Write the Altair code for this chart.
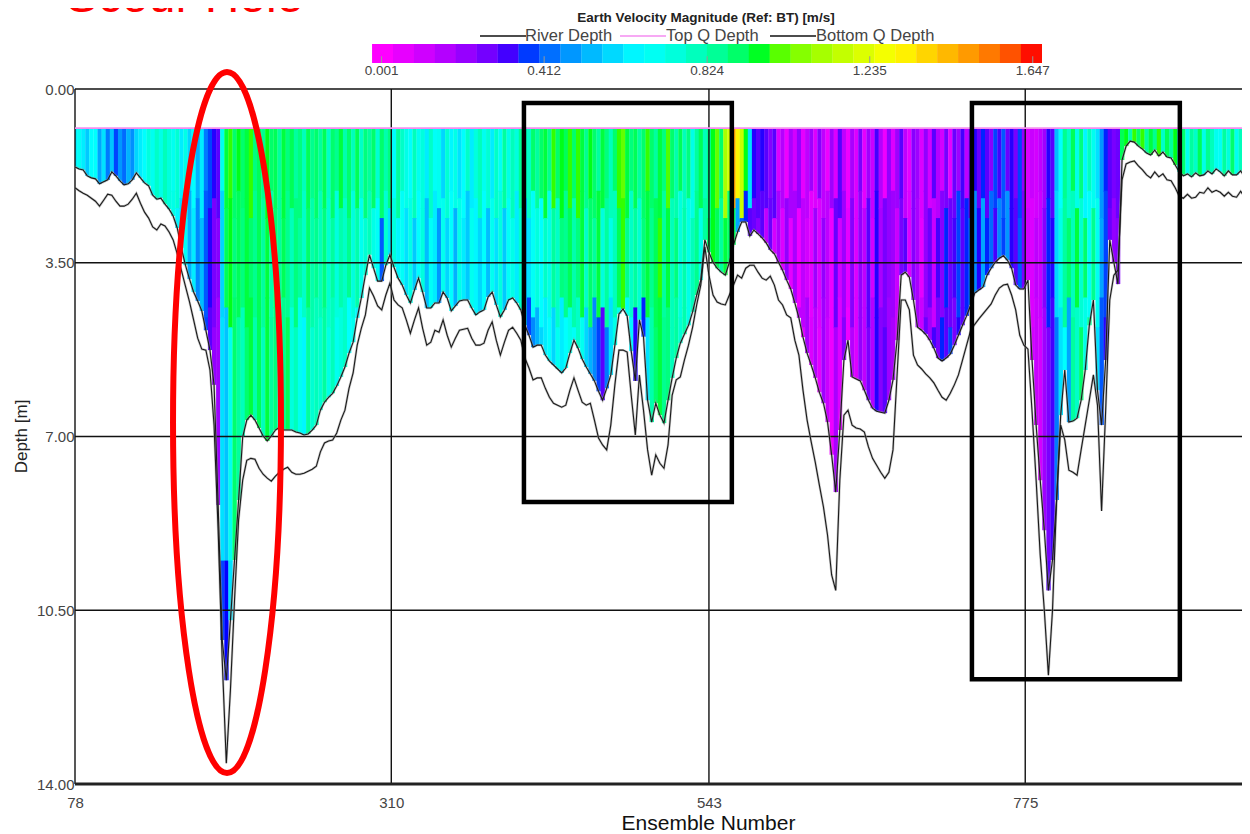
import altair as alt
import pandas as pd

FONT = "Liberation Sans"
FIRST_ENSEMBLE = 78
STEP = 3
X_TICKS = [78, 310, 543, 775]
Y_TICKS = [0, 3.5, 7, 10.5, 14]
TOP_Q = 0.79

BOTTOM_Q = [
 1.57,1.61,1.63,1.75,1.79,1.81,1.91,1.87,1.83,1.67,1.75,1.85,1.93,1.91,1.83,1.69,1.79,1.89,1.95,2.14,
 2.22,2.20,2.32,2.42,2.56,2.80,3.20,3.55,3.83,4.09,4.27,4.47,4.86,5.26,5.96,8.38,11.10,11.91,10.70,9.49,
 8.28,7.01,6.67,6.57,6.67,6.83,6.99,7.09,6.99,6.87,6.81,6.87,6.87,6.87,6.91,6.93,6.97,6.95,6.87,6.77,
 6.47,6.31,6.21,6.13,5.98,5.80,5.60,5.32,5.10,4.61,4.21,3.75,3.34,3.61,3.87,3.87,3.55,3.34,3.59,3.81,
 3.95,4.15,4.31,4.05,3.81,4.09,4.41,4.41,4.31,4.31,4.09,4.21,4.47,4.37,4.27,4.25,4.25,4.41,4.55,4.49,
 4.45,4.19,4.09,4.35,4.59,4.45,4.25,4.21,4.31,4.45,4.76,4.96,5.20,5.16,5.16,5.36,5.48,5.56,5.64,5.72,
 5.62,5.32,5.06,5.22,5.44,5.60,5.74,5.88,6.09,6.27,6.03,5.76,5.16,4.53,4.43,4.57,5.28,5.88,4.65,4.99,
 6.27,6.71,6.33,6.57,6.73,6.27,5.82,5.42,5.12,4.94,4.76,4.49,4.15,3.85,3.04,3.29,3.49,3.61,3.69,3.75,
 3.49,3.14,2.88,2.68,2.68,2.96,2.84,2.92,3.00,3.10,3.24,3.32,3.49,3.65,3.85,4.03,4.31,4.61,5.00,5.32,
 5.56,5.82,6.11,6.33,6.71,7.37,8.12,6.87,5.46,5.06,5.80,5.84,5.88,6.07,6.27,6.43,6.49,6.51,6.53,6.27,
 5.86,5.06,3.75,3.69,3.79,4.25,4.80,4.86,4.94,5.06,5.22,5.42,5.48,5.42,5.34,5.16,4.96,4.76,4.57,4.35,
 4.11,4.05,3.99,3.75,3.61,3.49,3.41,3.36,3.45,3.61,3.95,4.03,4.03,3.85,5.46,6.77,7.88,8.89,10.10,9.49,
 8.28,6.57,5.66,6.71,6.69,6.63,6.27,5.66,4.76,4.25,6.07,6.77,5.46,3.04,3.49,3.93,1.43,1.15,1.05,1.07,
 1.15,1.21,1.29,1.33,1.23,1.35,1.27,1.37,1.39,1.53,1.67,1.75,1.71,1.77,1.69,1.75,1.73,1.65,1.71,1.61,
 1.67,1.75,1.65,1.73,1.73,1.65,1.77,1.73,
]

RIVER = [
 1.99,2.05,2.10,2.14,2.20,2.26,2.36,2.24,2.12,2.14,2.26,2.36,2.36,2.32,2.22,2.10,2.30,2.48,2.60,2.78,
 2.84,2.72,2.76,2.88,3.04,3.32,3.65,3.97,4.29,4.65,5.02,5.24,5.26,5.66,6.77,8.89,11.51,13.58,12.11,10.30,
 8.68,7.88,7.48,7.44,7.46,7.64,7.76,7.84,7.90,7.80,7.72,7.66,7.62,7.72,7.76,7.76,7.74,7.70,7.66,7.60,
 7.31,7.13,7.09,7.07,6.93,6.67,6.47,6.03,5.72,5.16,4.82,4.55,4.01,4.17,4.37,4.45,4.15,3.91,4.25,4.35,
 4.41,4.65,4.92,4.65,4.41,4.82,5.16,5.10,4.86,4.90,4.65,4.96,5.20,5.02,4.86,4.84,4.82,5.02,5.16,5.16,
 5.12,4.86,4.69,5.06,5.36,5.10,4.86,4.80,4.92,5.06,5.42,5.62,5.86,5.82,5.82,6.03,6.21,6.33,6.37,6.41,
 6.37,6.07,5.82,6.07,6.31,6.37,6.33,6.67,7.03,7.17,7.27,6.77,5.96,5.26,5.26,5.30,6.17,6.97,5.76,6.47,
 7.27,7.78,7.37,7.54,7.64,7.17,6.17,5.86,5.80,5.46,5.16,4.80,4.35,3.95,3.18,3.75,4.15,4.29,4.33,4.35,
 4.15,3.95,3.75,3.81,3.61,3.55,3.55,3.69,3.81,3.85,3.77,3.95,4.25,4.35,4.55,4.61,5.06,5.36,6.07,6.67,
 7.11,7.52,7.98,8.42,8.99,9.79,10.10,7.88,6.57,6.47,6.77,6.83,6.85,6.91,7.21,7.44,7.58,7.72,7.84,7.72,
 7.27,5.76,4.25,4.25,4.45,5.36,5.56,5.64,5.74,5.82,5.92,6.07,6.21,6.27,6.13,5.96,5.76,5.46,5.16,4.86,
 4.74,4.63,4.53,4.43,4.33,4.15,4.01,3.95,3.93,4.15,4.45,4.96,5.16,5.24,6.49,7.88,9.39,10.50,11.81,10.50,
 8.28,6.77,7.07,7.68,7.72,7.78,7.27,6.77,6.27,5.76,6.37,8.50,6.47,4.25,3.75,3.65,1.83,1.51,1.47,1.45,
 1.55,1.63,1.73,1.79,1.67,1.77,1.71,1.83,1.85,1.99,2.16,2.20,2.12,2.20,2.18,2.08,2.10,1.99,2.08,2.04,
 2.08,2.16,2.08,2.16,2.18,2.06,2.18,2.14,
]

# velocity magnitude, cm/s, one value per column in three depth bands
V_TOP = [
 62,68,62,56,66,66,50,60,44,55,38,48,42,52,47,58,62,66,74,70,
 78,72,80,74,70,76,62,72,58,66,52,62,44,38,34,30,70,94,98,90,
 96,90,94,98,88,92,86,96,90,92,84,94,88,92,84,88,80,92,86,90,
 84,92,78,90,86,94,82,90,80,92,78,88,84,90,76,90,82,88,66,84,
 78,72,66,80,70,74,62,78,68,70,58,76,64,72,60,66,78,62,74,80,
 70,76,62,78,68,84,72,80,74,86,82,78,90,84,90,94,86,98,90,96,
 92,98,90,98,94,86,96,90,84,94,88,80,90,98,102,94,88,92,84,90,
 98,90,84,94,88,100,90,82,92,80,88,72,84,92,80,86,96,102,90,112,
 120,148,132,118,96,60,34,30,34,30,24,30,8,16,4,18,10,22,6,14,
 20,8,24,14,4,20,8,30,14,4,18,8,26,6,20,12,32,16,4,22,
 8,20,30,14,6,24,20,8,22,10,30,16,10,26,6,28,20,32,14,28,
 34,28,36,30,24,38,32,40,28,34,26,38,22,8,12,10,14,20,34,30,
 54,66,86,78,92,72,88,64,80,70,60,48,36,30,26,28,92,96,82,98,
 90,98,84,94,86,98,78,92,84,96,74,90,70,84,78,92,72,86,80,70,
 68,84,74,90,70,80,76,72,
]
V_MID = [None] * 24 + [
 72,64,58,68,52,62,46,54,40,34,26,24,58,92,96,88,
 92,88,94,90,86,92,84,94,82,90,84,92,86,80,88,84,78,90,82,86,
 80,88,76,84,74,82,78,86,74,82,70,76,80,72,68,40,76,60,74,64,
 68,60,72,56,66,74,54,68,62,48,70,58,66,52,72,62,56,70,64,58,
 66,54,70,60,74,56,68,72,62,78,54,60,68,74,66,78,72,84,78,88,
 86,92,82,88,94,78,90,84,94,74,84,72,80,92,98,86,78,84,76,88,
 94,86,92,98,84,94,80,88,74,82,72,80,86,72,84,90,96,92,84,94,
 90,92,50,40,36,30,28,24,30,14,28,10,18,8,22,6,18,4,14,10,
 6,20,8,22,14,4,28,10,20,6,24,8,22,14,30,10,34,18,26,22,
 20,12,26,30,8,24,18,6,22,28,12,32,24,36,28,32,38,30,36,44,
 46,34,50,36,42,32,46,38,48,34,30,40,26,10,8,14,12,24,36,34,
 58,72,84,90,80,94,76,90,68,86,70,50,38,28,22,24,
] + [None] * 32
V_LOW = [None] * 32 + [
 38,30,22,20,60,55,70,90,
 84,80,90,94,82,92,80,94,84,88,76,86,92,74,80,70,64,84,76,80,
 76,84,72,80,70,74,78,66,70,64,
] + [None] * 30 + [None] * 4 + [60] + [None] * 5 + [
 40,38,46,52,58,62,66,58,70,62,
 66,72,68,78,70,58,52,46,38,30,44,60,72,70,None,70,64,34,40,36,
 60,82,90,94,86,88,80,84,76,82,74,
] + [None] * 26 + [
 14,8,18,
 8,16,6,20,12,4,18,8,24,4,16,8,22,14,26,16,34,24,30,20,
 18,12,None,None,None,None,24,12,28,20,32,26,36,30,38,26,34,30,36,None,
] + [None] * 14 + [
 10,12,10,20,26,32,
 44,60,66,50,84,78,90,72,86,None,60,40,34,
] + [None] * 35
# deepest part of the two narrowest scour cones, below 9.5 m
V_DEEP = {186: 38, 189: 35, 192: 60, 789: 22, 792: 30, 795: 40}

# depth at which a column passes from one band to the next, repeating across columns
BAND_A = [2.05, 2.4, 2.2, 2.6]
BAND_B = [4.2, 4.6, 4.4, 4.8]

BAR_TICKS = [0.001, 0.412, 0.824, 1.235, 1.647]
COLOR_DOMAIN = [0, 35, 65.5, 96.5, 130, 164.7]
COLOR_RANGE = ["#ff00ff", "#0000ff", "#00ffff", "#00ff00", "#ffff00", "#ff0000"]

n = len(BOTTOM_Q)
assert n == 288 and len(RIVER) == n and len(V_TOP) == n, (len(RIVER), len(V_TOP))
assert len(V_MID) == n and len(V_LOW) == n, (len(V_MID), len(V_LOW))
ensembles = [FIRST_ENSEMBLE + STEP * i for i in range(n)]

X_MAX = 934
x_scale = alt.Scale(domain=[78, X_MAX], nice=False, zero=False)
y_scale = alt.Scale(domain=[14, 0], nice=False, zero=False)
color_scale = alt.Scale(domain=COLOR_DOMAIN, range=COLOR_RANGE)

cells = []
for i, e in enumerate(ensembles):
    bottom = BOTTOM_Q[i]
    x0, x1 = max(78, e - 1.5), min(X_MAX, e + 1.7)
    if e - 1.5 >= X_MAX:
        continue
    vals = [V_TOP[i], V_MID[i], V_LOW[i]]
    bounds = [TOP_Q, BAND_A[i % 4], BAND_B[(i + 1) % 4]]
    for j, v in enumerate(vals):
        if v is None or bottom <= bounds[j]:
            continue
        if j < 2 and vals[j + 1] is not None:
            y1 = bounds[j + 1] + 0.02
        elif e in V_DEEP:
            y1 = 9.52
        else:
            y1 = bottom
        cells.append(dict(x0=x0, x1=x1, y0=bounds[j], y1=min(bottom, y1), v=v))
    if e in V_DEEP and bottom > 9.5:
        cells.append(dict(x0=x0, x1=x1, y0=9.5, y1=bottom, v=V_DEEP[e]))
cells = pd.DataFrame(cells)
lines = pd.DataFrame(dict(e=ensembles, river=RIVER, bottom=BOTTOM_Q, top=[TOP_Q] * n))

x_axis = alt.Axis(values=X_TICKS, format="d", grid=False, ticks=False, domain=False,
                  labelFont=FONT, labelFontSize=15, labelColor="#444", labelPadding=11, labelFlush=False,
                  titleFont=FONT, titleFontSize=21, titleFontWeight="normal", titleColor="#111",
                  titleX=633, titleY=39, titleBaseline="middle")
y_axis = alt.Axis(values=Y_TICKS, format=".2f", grid=False, ticks=False, domain=False,
                  labelFont=FONT, labelFontSize=15, labelColor="#444", labelPadding=1, labelFlush=False,
                  titleFont=FONT, titleFontSize=17, titleFontWeight="normal", titleColor="#222",
                  titleX=-54, titleY=347, titleBaseline="middle")
X = lambda f: alt.X(f, type="quantitative", scale=x_scale, title="Ensemble Number", axis=x_axis)
Y = lambda f: alt.Y(f, type="quantitative", scale=y_scale, title="Depth [m]", axis=y_axis)

heat = alt.Chart(cells).mark_rect(strokeWidth=0).encode(
    x=X("x0"), x2="x1:Q", y=Y("y0"), y2="y1:Q",
    color=alt.Color("v:Q", scale=color_scale, legend=None),
)

grid_v = alt.Chart(pd.DataFrame(dict(x=X_TICKS))).mark_rule(color="#111", strokeWidth=1.4).encode(x=X("x"))
grid_h = alt.Chart(pd.DataFrame(dict(y=Y_TICKS[:-1]))).mark_rule(color="#111", strokeWidth=1.4).encode(y=Y("y"))
base_line = alt.Chart(pd.DataFrame(dict(y=[14]))).mark_rule(color="#222", strokeWidth=3).encode(y=Y("y"))

line_base = alt.Chart(lines)
halo_r = line_base.mark_line(color="#999", strokeWidth=2.4, opacity=0.55).encode(x=X("e"), y=Y("river"))
halo_b = line_base.mark_line(color="#999", strokeWidth=2.4, opacity=0.55).encode(x=X("e"), y=Y("bottom"))
river = line_base.mark_line(color="#1a1a1a", strokeWidth=1.1).encode(x=X("e"), y=Y("river"))
bottom_q = line_base.mark_line(color="#1a1a1a", strokeWidth=1.1).encode(x=X("e"), y=Y("bottom"))
top_q = line_base.mark_line(color="#f58cf0", strokeWidth=1.8).encode(x=X("e"), y=Y("top"))

# colour bar: velocity to position along the bar, expressed on the shared x scale
bar_x = lambda v: 302.85 + 290.2 * (v - 0.001)
bar_rows = []
for i in range(32):
    lo = -0.023 + 0.0529 * i
    bar_rows.append(dict(x0=bar_x(lo), x1=bar_x(lo + 0.0535), v=(lo + 0.0265) * 100, y0=-0.907, y1=-0.524))
bar = alt.Chart(pd.DataFrame(bar_rows)).mark_rect(strokeWidth=0).encode(
    x=X("x0"), x2="x1:Q", y=Y("y0"), y2="y1:Q",
    color=alt.Color("v:Q", scale=color_scale, legend=None))
bar_tick_df = pd.DataFrame(dict(x=[bar_x(v) for v in BAR_TICKS], label=[f"{v:.3f}" for v in BAR_TICKS],
                                y0=[-0.66] * 5, y1=[-0.524] * 5))
bar_ticks = alt.Chart(bar_tick_df).mark_rule(color="#999", strokeWidth=1).encode(
    x=X("x"), y=Y("y0"), y2="y1:Q")
bar_labels = alt.Chart(bar_tick_df).mark_text(font=FONT, fontSize=13.5, color="#444", baseline="middle").encode(
    x=X("x"), y=alt.value(70.5 - 89), text="label:N")

one = alt.Data(values=[{"a": 1}])
def label(text, px, py, size, color="#444", weight="normal", align="center", baseline="middle"):
    return alt.Chart(one).mark_text(text=text, font=FONT, fontSize=size, color=color, fontWeight=weight,
                                    align=align, baseline=baseline).encode(
        x=alt.value(px - 75), y=alt.value(py - 89))
def key_line(x0, x1, py, color):
    return alt.Chart(one).mark_rule(color=color, strokeWidth=1.6).encode(
        x=alt.value(x0 - 75), x2=alt.value(x1 - 75), y=alt.value(py - 89))

texts = [
    label("Earth Velocity Magnitude (Ref: BT) [m/s]", 706, 18, 13.5, "#222", "bold"),
    label("River Depth", 525, 36, 16.5, align="left"),
    label("Top Q Depth", 666, 36, 16.5, align="left"),
    label("Bottom Q Depth", 816, 36, 16.5, align="left"),
    key_line(480, 526, 36, "#111"),
    key_line(620, 666, 36, "#f58cf0"),
    key_line(770, 816, 36, "#111"),
    label("Scour Hole", 66, 12, 48, "#ff0000", align="left", baseline="alphabetic"),
]

# annotations: red ellipse and black boxes
ELLIPSE = "M -0.154,0 A 0.154,1 0 1,0 0.154,0 A 0.154,1 0 1,0 -0.154,0 Z"
ellipse = alt.Chart(one).mark_point(shape=ELLIPSE, size=(2 * 350.5) ** 2, filled=False, stroke="#ff0000",
                                    strokeWidth=6, opacity=1).encode(
    x=alt.value(227 - 75), y=alt.value(422.5 - 89))
boxes = alt.Chart(pd.DataFrame(dict(x0=[407.3, 735.9], x1=[559.8, 888.4], y0=[0.28, 0.28], y1=[8.32, 11.89]))
    ).mark_rect(fillOpacity=0, stroke="#000", strokeWidth=4.5).encode(
    x=X("x0"), x2="x1:Q", y=Y("y0"), y2="y1:Q")

chart = alt.layer(
    heat, grid_v, grid_h, base_line, top_q, halo_r, halo_b, river, bottom_q,
    bar, bar_ticks, bar_labels, *texts, boxes, ellipse,
).properties(
    width=1167, height=695,
    autosize=alt.AutoSizeParams(type="none"),
    padding={"left": 67, "top": 81, "right": 0, "bottom": 50},
    background="white",
).configure_view(stroke=None)

chart.save("out.html", embed_options={"renderer": "svg", "actions": False})
